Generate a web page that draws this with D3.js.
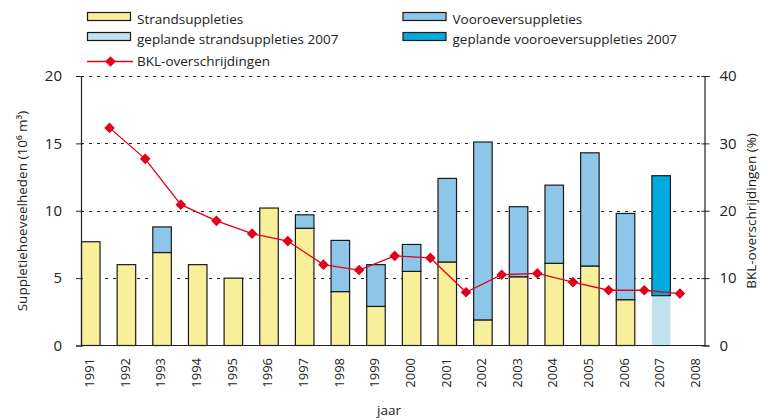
<!DOCTYPE html>
<html>
<head>
<meta charset="utf-8">
<script src="https://cdn.jsdelivr.net/npm/d3@7"></script>
<style>
  body { margin: 0; background: #fff; }
  text { font-family: "Open Sans", "Noto Sans", sans-serif; fill: #222; }
</style>
</head>
<body>
<div id="chart"></div>
<script>
// data
const years = ["1991","1992","1993","1994","1995","1996","1997","1998","1999",
               "2000","2001","2002","2003","2004","2005","2006","2007","2008"]
const strand = [7.7, 6.0, 6.9, 6.0, 5.0, 10.2, 8.7, 4.0, 2.9, 5.5, 6.2, 1.9, 5.1, 6.1, 5.9, 3.4, 0, 0]
const vooroever = [0, 0, 1.9, 0, 0, 0, 1.0, 3.8, 3.1, 2.0, 6.2, 13.2, 5.2, 5.8, 8.4, 6.4, 0, 0]
const plannedStrand = [0,0,0,0,0,0,0,0,0,0,0,0,0,0,0,0, 3.7, 0]
const plannedVooroever = [0,0,0,0,0,0,0,0,0,0,0,0,0,0,0,0, 8.9, 0]
const bklYears = years.slice(0, 17)
const bkl = [32.3, 27.7, 20.9, 18.5, 16.6, 15.5, 12.0, 11.2, 13.3, 13.0, 7.9, 10.5, 10.7, 9.4, 8.2, 8.2, 7.7]
const leftTicks = [0, 5, 10, 15, 20]
const rightTicks = [0, 10, 20, 30, 40]

const width = 764, height = 420
const margin = {top: 76, right: 59, bottom: 75, left: 81}
const step = 35.65

const colors = {
  strand: "#f8ef9b",
  vooroever: "#8ec6e9",
  plannedStrand: "#c0e2ec",
  plannedVooroever: "#00aadc",
  bkl: "#e3001b"
}

const svg = d3.select("#chart").append("svg")
    .attr("width", width)
    .attr("height", height)

const x = d3.scaleBand()
    .domain(years)
    .range([margin.left, margin.left + step * years.length])
    .padding(0)

const y = d3.scaleLinear().domain([0, 20]).range([345.5, margin.top])
const y2 = d3.scaleLinear().domain([0, 40]).range([345.5, margin.top])
const xRight = width - margin.right - 0.5
const barW = x.bandwidth() * 0.52

// dashed grid lines
svg.append("g")
  .selectAll("line")
  .data(leftTicks.filter(d => d > 0))
  .join("line")
    .attr("x1", margin.left)
    .attr("x2", xRight)
    .attr("y1", d => Math.round(y(d)) + 0.5)
    .attr("y2", d => Math.round(y(d)) + 0.5)
    .attr("stroke", "#222")
    .attr("stroke-dasharray", "3,5")

// stacked bars, one layer at a time
const layers = [
  {key: "strand", values: strand, base: d => 0},
  {key: "vooroever", values: vooroever, base: i => strand[i]},
  {key: "plannedStrand", values: plannedStrand, base: i => 0},
  {key: "plannedVooroever", values: plannedVooroever, base: i => plannedStrand[i]}
]

layers.forEach(layer => {
  svg.append("g")
    .selectAll("rect")
    .data(years.map((yr, i) => ({yr, v: layer.values[i], b: layer.base(i)})).filter(d => d.v > 0))
    .join("rect")
      .attr("x", d => x(d.yr) + 0.5)
      .attr("y", d => y(d.b + d.v))
      .attr("width", barW)
      .attr("height", d => y(d.b) - y(d.b + d.v))
      .attr("fill", colors[layer.key])
      .attr("stroke", layer.key === "plannedStrand" ? "none" : "#1a1a1a")
      .attr("stroke-width", 1.2)
})

// axes
svg.append("line")
    .attr("x1", margin.left).attr("x2", xRight)
    .attr("y1", 345.5).attr("y2", 345.5)
    .attr("stroke", "#222").attr("stroke-width", 1.2)

const yAxis = svg.append("g")
    .attr("transform", `translate(${margin.left},0)`)
    .call(d3.axisLeft(y).tickValues(leftTicks).tickSize(5).tickPadding(14))
yAxis.select(".domain").attr("stroke", "#222").attr("stroke-width", 1.2)
yAxis.selectAll(".tick line").attr("x2", 2).attr("x1", -5).attr("stroke", "#222")
yAxis.selectAll("text").attr("font-size", 15).attr("font-family", "Open Sans").attr("fill", "#222")

const y2Axis = svg.append("g")
    .attr("transform", `translate(${xRight},0)`)
    .call(d3.axisRight(y2).tickValues(rightTicks).tickSize(5).tickPadding(10))
y2Axis.select(".domain").attr("stroke", "#222").attr("stroke-width", 1.2)
y2Axis.selectAll(".tick line").attr("x1", -3).attr("x2", 5).attr("stroke", "#222")
y2Axis.selectAll("text").attr("font-size", 15).attr("font-family", "Open Sans").attr("fill", "#222")

// year labels, rotated
svg.append("g")
  .selectAll("text")
  .data(years)
  .join("text")
    .attr("transform", d => `translate(${x(d) + 13},358) rotate(-90)`)
    .attr("text-anchor", "end")
    .attr("font-size", 13)
    .text(d => d)

// BKL line on the secondary axis
const bklX = d => x(d) + step * 0.8
svg.append("path")
    .datum(bklYears.map((yr, i) => [yr, bkl[i]]))
    .attr("fill", "none")
    .attr("stroke", colors.bkl)
    .attr("stroke-width", 1.3)
    .attr("d", d3.line().x(d => bklX(d[0])).y(d => y2(d[1])))

svg.append("g")
  .selectAll("path")
  .data(bklYears.map((yr, i) => [yr, bkl[i]]))
  .join("path")
    .attr("d", d3.symbol(d3.symbolDiamond2, 72))
    .attr("transform", d => `translate(${bklX(d[0])},${y2(d[1])})`)
    .attr("fill", colors.bkl)

// axis titles
svg.append("text")
    .attr("x", 389).attr("y", 415)
    .attr("text-anchor", "middle")
    .attr("font-size", 13.5)
    .text("jaar")

svg.append("text")
    .attr("transform", "translate(27,211) rotate(-90)")
    .attr("text-anchor", "middle")
    .attr("font-size", 13.5)
    .text("Suppletiehoeveelheden (10\u2076 m\u00b3)")

svg.append("text")
    .attr("transform", "translate(756,211) rotate(-90)")
    .attr("text-anchor", "middle")
    .attr("font-size", 13.5)
    .text("BKL-overschrijdingen (%)")

// legend
const legendItems = [
  {label: "Strandsuppleties", color: colors.strand, lx: 87, ly: 12.5},
  {label: "Vooroeversuppleties", color: colors.vooroever, lx: 402.5, ly: 12.5},
  {label: "geplande strandsuppleties 2007", color: colors.plannedStrand, lx: 87, ly: 32.5},
  {label: "geplande vooroeversuppleties 2007", color: colors.plannedVooroever, lx: 402.5, ly: 32.5}
]
const lg = svg.append("g").selectAll("g")
  .data(legendItems)
  .join("g")
    .attr("transform", d => `translate(${d.lx},${d.ly})`)
lg.append("rect")
    .attr("x", 0.5).attr("y", 0)
    .attr("width", 43).attr("height", 8)
    .attr("fill", d => d.color)
    .attr("stroke", "#1a1a1a")
    .attr("stroke-width", 1.2)
lg.append("text")
    .attr("x", 50).attr("y", 11.5)
    .attr("font-size", 13.5)
    .text(d => d.label)

const lb = svg.append("g").attr("transform", "translate(87,61.5)")
lb.append("line")
    .attr("x1", 0).attr("x2", 46)
    .attr("stroke", colors.bkl).attr("stroke-width", 1.3)
lb.append("path")
    .attr("d", d3.symbol(d3.symbolDiamond2, 72))
    .attr("transform", "translate(23.5,0)")
    .attr("fill", colors.bkl)
lb.append("text")
    .attr("x", 50).attr("y", 4.5)
    .attr("font-size", 13.5)
    .text("BKL-overschrijdingen")
</script>
</body>
</html>
